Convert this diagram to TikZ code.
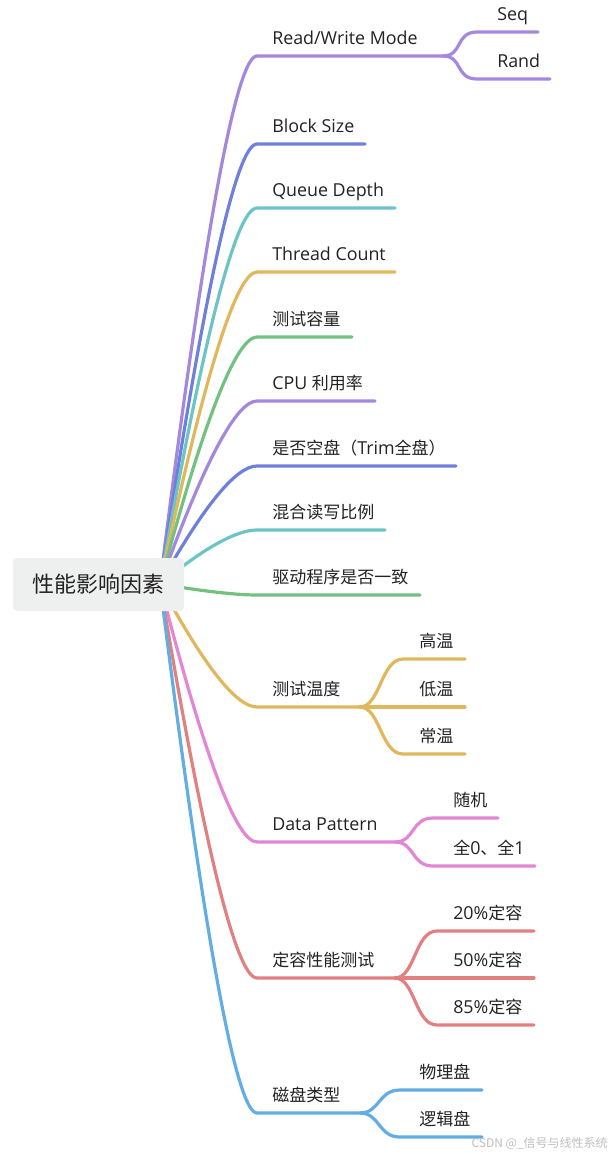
\documentclass[tikz,border=0pt]{standalone}
\usepackage{fontspec}
\setmainfont{Open Sans}[Scale=1.05]
\newfontfamily\cjk{Noto Sans CJK SC}
\usetikzlibrary{calc,backgrounds}
\definecolor{cpurple}{RGB}{163,136,222}
\definecolor{cblue}{RGB}{111,128,220}
\definecolor{cteal}{RGB}{108,196,196}
\definecolor{cgold}{RGB}{225,183,92}
\definecolor{cgreen}{RGB}{115,193,128}
\definecolor{cpink}{RGB}{228,134,214}
\definecolor{cred}{RGB}{226,128,128}
\definecolor{clblue}{RGB}{98,174,228}
\definecolor{rootgray}{RGB}{238,240,239}
\definecolor{txt}{RGB}{34,34,34}
\definecolor{wm}{RGB}{190,190,190}
% main branch: color, y, xend, name
\newcommand\mainbr[4]{%
  \coordinate (#4s) at (257,#2);
  \coordinate (#4e) at (#3,#2);
  \draw[br,#1] (ro) .. controls ($(ro)!2/3!(226,#2)$) and ($(#4s)!2/3!(226,#2)$) .. (#4s) -- (#4e);
}
% sub branch: color, fork name, y, xstart, xend, name
\newcommand\subbr[6]{%
  \coordinate (#6s) at (#4,#3);
  \coordinate (#6e) at (#5,#3);
  \draw[br,#1] (#2) .. controls +(20,0) and +(-22,0) .. (#6s) -- (#6e);
}
\begin{document}
\begin{tikzpicture}[x=0.75pt,y=-0.75pt,
  br/.style={line width=2.4pt,line cap=round,line join=round},
  lbl/.style={anchor=base west,inner sep=0pt,font=\fontsize{12.75}{15}\selectfont,text=txt},
  rootbox/.style={fill=rootgray,rounded corners=3pt,minimum width=128.25pt,minimum height=39.75pt,inner sep=0pt,font=\fontsize{16.5}{20}\selectfont,text=txt}]
\useasboundingbox (0,0) rectangle (613,1154);
\coordinate (ro) at (160,584);
% main branches
\mainbr{cpurple}{56}{443}{a1}
\mainbr{cblue}{144}{365}{a2}
\mainbr{cteal}{208}{395}{a3}
\mainbr{cgold}{272}{395}{a4}
\mainbr{cgreen}{337}{352}{a5}
\mainbr{cpurple}{401}{375}{a6}
\mainbr{cblue}{466}{456}{a7}
\mainbr{cteal}{530}{385}{a8}
\mainbr{cgreen}{595}{420}{a9}
\mainbr{cgold}{707}{360}{a10}
\mainbr{cpink}{842}{395}{a11}
\mainbr{cred}{978}{395}{a12}
\mainbr{clblue}{1113}{360}{a13}
% sub branches
\subbr{cpurple}{a1e}{32}{477}{538}{s1}
\subbr{cpurple}{a1e}{79}{477}{550}{s2}
\subbr{cgold}{a10e}{659}{403}{465}{t1}
\coordinate (t2e) at (465,707);
\draw[br,cgold] (a10e) -- (t2e);
\subbr{cgold}{a10e}{754}{403}{465}{t3}
\subbr{cpink}{a11e}{818}{433}{498}{d1}
\subbr{cpink}{a11e}{866}{433}{535}{d2}
\subbr{cred}{a12e}{931}{437}{534}{c1}
\coordinate (c2e) at (534,978);
\draw[br,cred] (a12e) -- (c2e);
\subbr{cred}{a12e}{1025}{437}{534}{c3}
\subbr{clblue}{a13e}{1090}{400}{482}{k1}
\subbr{clblue}{a13e}{1137}{400}{482}{k2}
% root
\node[rootbox] (root) at (98.5,584.5) {\cjk 性能影响因素};
% main labels
\node[lbl] (l1) at (272,44) {Read/Write Mode};
\node[lbl] (l2) at (272,132) {Block Size};
\node[lbl] (l3) at (272,196) {Queue Depth};
\node[lbl] (l4) at (272,260) {Thread Count};
\node[lbl] (l5) at (272,325) {\cjk 测试容量};
\node[lbl] (l6) at (272,389) {CPU {\cjk 利用率}};
\node[lbl] (l7) at (272,454) {{\cjk 是否空盘（}Trim{\cjk 全盘）}};
\node[lbl] (l8) at (272,518) {\cjk 混合读写比例};
\node[lbl] (l9) at (272,583) {\cjk 驱动程序是否一致};
\node[lbl] (l10) at (272,695) {\cjk 测试温度};
\node[lbl] (l11) at (272,830) {Data Pattern};
\node[lbl] (l12) at (272,966) {\cjk 定容性能测试};
\node[lbl] (l13) at (272,1101) {\cjk 磁盘类型};
% sub labels
\node[lbl] (ls1) at (497,20) {Seq};
\node[lbl] (ls2) at (497,67) {Rand};
\node[lbl] (lt1) at (419,647) {\cjk 高温};
\node[lbl] (lt2) at (419,695) {\cjk 低温};
\node[lbl] (lt3) at (419,742) {\cjk 常温};
\node[lbl] (ld1) at (453,806) {\cjk 随机};
\node[lbl] (ld2) at (453,854) {{\cjk 全}0{\cjk 、全}1};
\node[lbl] (lc1) at (453,919) {20\%{\cjk 定容}};
\node[lbl] (lc2) at (453,966) {50\%{\cjk 定容}};
\node[lbl] (lc3) at (453,1013) {85\%{\cjk 定容}};
\node[lbl] (lk1) at (419,1078) {\cjk 物理盘};
\node[lbl] (lk2) at (419,1125) {\cjk 逻辑盘};
% watermark
\node[anchor=base east,inner sep=0pt,font=\cjk\fontsize{9}{11}\selectfont,text=wm] (wmk) at (608,1147) {CSDN @\_信号与线性系统};
\end{tikzpicture}
\end{document}
